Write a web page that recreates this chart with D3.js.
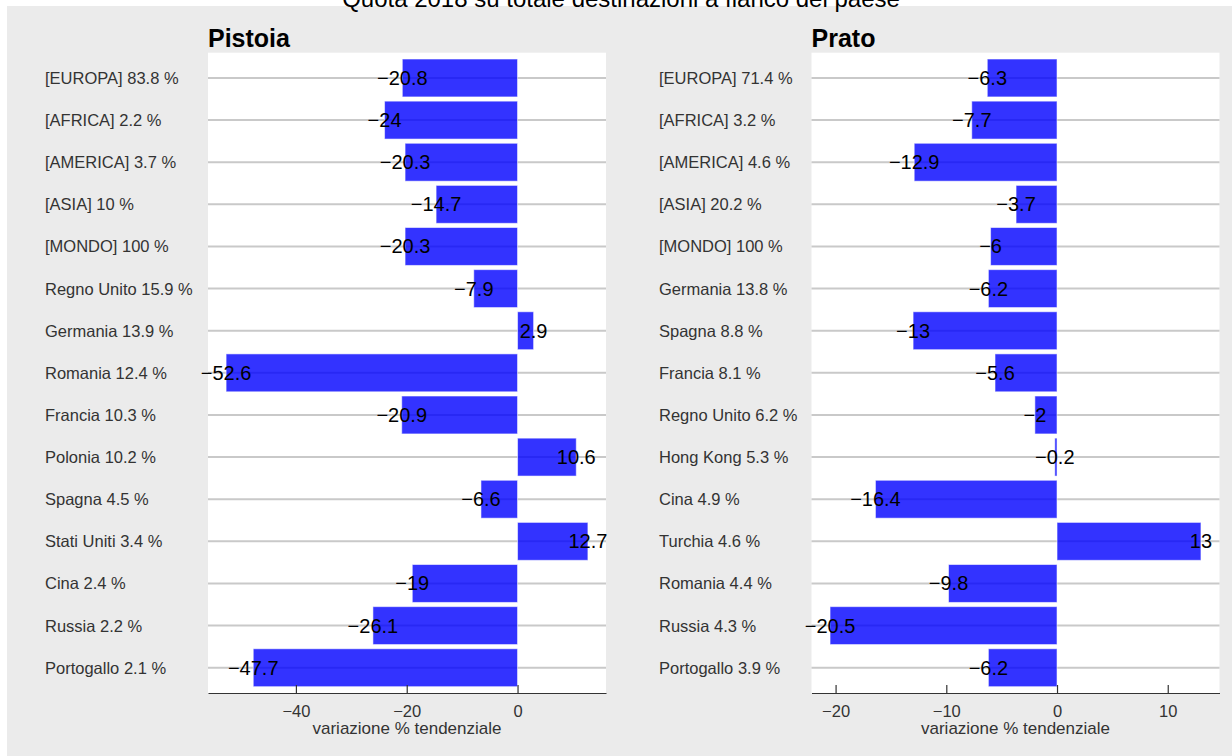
<!DOCTYPE html>
<html>
<head>
<meta charset="utf-8">
<script src="https://cdn.jsdelivr.net/npm/d3@7"></script>
<style>
  html, body { margin: 0; padding: 0; background: #ffffff; }
  svg { display: block; font-family: "Liberation Sans", Arial, Helvetica, sans-serif; }
</style>
</head>
<body>
<svg id="chart" width="1232" height="756"></svg>
<script>
// ---- data ----
const chartTitle = "Quota 2018 su totale destinazioni a fianco del paese";
const axisTitle = "variazione % tendenziale";

const pistoiaCategories = ["[EUROPA] 83.8 %", "[AFRICA] 2.2 %", "[AMERICA] 3.7 %", "[ASIA] 10 %", "[MONDO] 100 %",
  "Regno Unito 15.9 %", "Germania 13.9 %", "Romania 12.4 %", "Francia 10.3 %", "Polonia 10.2 %",
  "Spagna 4.5 %", "Stati Uniti 3.4 %", "Cina 2.4 %", "Russia 2.2 %", "Portogallo 2.1 %"];
const pistoiaValues = [-20.8, -24, -20.3, -14.7, -20.3, -7.9, 2.9, -52.6, -20.9, 10.6, -6.6, 12.7, -19, -26.1, -47.7];
const pistoiaTicks = [-40, -20, 0];

const pratoCategories = ["[EUROPA] 71.4 %", "[AFRICA] 3.2 %", "[AMERICA] 4.6 %", "[ASIA] 20.2 %", "[MONDO] 100 %",
  "Germania 13.8 %", "Spagna 8.8 %", "Francia 8.1 %", "Regno Unito 6.2 %", "Hong Kong 5.3 %",
  "Cina 4.9 %", "Turchia 4.6 %", "Romania 4.4 %", "Russia 4.3 %", "Portogallo 3.9 %"];
const pratoValues = [-6.3, -7.7, -12.9, -3.7, -6, -6.2, -13, -5.6, -2, -0.2, -16.4, 13, -9.8, -20.5, -6.2];
const pratoTicks = [-20, -10, 0, 10];

// ---- layout ----
const svg = d3.select("#chart");
svg.append("rect").attr("x", 7).attr("y", 6).attr("width", 1232 - 7).attr("height", 756 - 6).attr("fill", "#ebebeb");

svg.append("text").attr("x", 621).attr("y", 6.5).attr("text-anchor", "middle")
  .attr("font-size", 24).attr("fill", "#000").text(chartTitle);

const plotTop = 52.7, plotBottom = 693;
const fmt = v => String(v).replace("-", "\u2212");

function panel(opts) {
  const { name, cats, vals, ticks, left, right, labelX } = opts;
  const g = svg.append("g");
  const lo = Math.min(0, d3.min(vals)), hi = Math.max(0, d3.max(vals));
  const pad = (hi - lo) * 0.05;
  const x = d3.scaleLinear().domain([lo - pad, hi + pad]).range([left, right]);
  const yc = d3.scalePoint().domain(cats).range([plotTop, plotBottom]).padding(0.6);
  const step = yc.step();
  const bh = step * 0.9;

  g.append("rect").attr("x", left).attr("y", plotTop).attr("width", right - left).attr("height", plotBottom - plotTop).attr("fill", "#ffffff");

  // gridlines
  g.selectAll("line.grid").data(cats).enter().append("line")
    .attr("x1", left).attr("x2", right)
    .attr("y1", d => yc(d)).attr("y2", d => yc(d))
    .attr("stroke", "#c9c9c9").attr("stroke-width", 2);

  // bars
  g.selectAll("rect.bar").data(vals).enter().append("rect")
    .attr("x", d => Math.min(x(0), x(d)))
    .attr("width", d => Math.abs(x(d) - x(0)))
    .attr("y", (d, i) => yc(cats[i]) - bh / 2)
    .attr("height", bh)
    .attr("fill", "rgba(0,0,255,0.8)")
    .attr("stroke", "rgba(255,255,255,0.55)").attr("stroke-width", 1);

  // value labels
  g.selectAll("text.val").data(vals).enter().append("text")
    .attr("x", d => x(d)).attr("y", (d, i) => yc(cats[i]))
    .attr("text-anchor", "middle").attr("dominant-baseline", "central")
    .attr("font-size", 20).attr("fill", "#000").text(d => fmt(d));

  // category labels
  g.selectAll("text.cat").data(cats).enter().append("text")
    .attr("x", labelX).attr("y", d => yc(d))
    .attr("dominant-baseline", "central")
    .attr("font-size", 16.5).attr("fill", "#333").text(d => d);

  // x axis
  const ax = g.append("g").attr("transform", `translate(0,${plotBottom})`)
    .call(d3.axisBottom(x).tickValues(ticks).tickSizeInner(-8).tickSizeOuter(0).tickPadding(12).tickFormat(fmt));
  ax.select(".domain").attr("stroke", "#333").attr("stroke-width", 1.2);
  ax.selectAll(".tick line").attr("stroke", "#333").attr("stroke-width", 1.2);
  ax.selectAll(".tick text").attr("font-size", 16.5).attr("fill", "#333").attr("font-family", "Liberation Sans, Arial, sans-serif");

  g.append("text").attr("x", (left + right) / 2).attr("y", 734).attr("text-anchor", "middle")
    .attr("font-size", 17).attr("fill", "#333").text(axisTitle);

  g.append("text").attr("x", left).attr("y", 47).attr("font-size", 25).attr("font-weight", "bold")
    .attr("fill", "#000").text(name);
}

panel({ name: "Pistoia", cats: pistoiaCategories, vals: pistoiaValues, ticks: pistoiaTicks, left: 208, right: 606, labelX: 45 });
panel({ name: "Prato", cats: pratoCategories, vals: pratoValues, ticks: pratoTicks, left: 811.5, right: 1219.5, labelX: 659 });
</script>
</body>
</html>
